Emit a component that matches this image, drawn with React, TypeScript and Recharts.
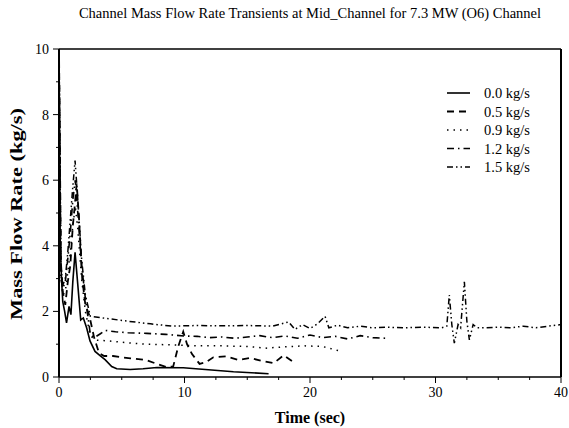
import { LineChart, Line, XAxis, YAxis, ReferenceLine } from 'recharts'

// time (sec) / mass flow rate (kg/s) pairs, one pair per inlet flow
const t00 = [0, 0.1, 0.2, 0.3, 0.45, 0.6, 0.8, 0.95, 1.1, 1.28, 1.5, 1.73, 1.94, 2.2, 2.47, 2.87, 3.27, 3.67, 4.2, 4.6, 5.67, 6.7, 7.8, 9.9, 11.9, 13.9, 16.7]
const v00 = [10, 4.0, 3.0, 2.3, 2.0, 1.65, 2.15, 1.9, 2.9, 3.8, 2.8, 1.74, 1.8, 1.5, 1.1, 0.78, 0.65, 0.53, 0.32, 0.25, 0.23, 0.25, 0.29, 0.28, 0.22, 0.16, 0.1]

const t05 = [0, 0.15, 0.3, 0.5, 0.7, 0.9, 1.1, 1.25, 1.41, 1.6, 1.85, 2.1, 2.4, 2.8, 3.2, 3.6, 4.3, 5.0, 5.7, 6.9, 7.8, 8.6, 9.1, 9.5, 9.9, 10.2, 10.6, 11.2, 11.7, 12.3, 13.3, 14.3, 15.2, 16.1, 17.1, 17.9, 18.7]
const v05 = [10, 3.5, 2.6, 2.2, 2.9, 3.4, 4.6, 5.2, 5.9, 4.8, 3.0, 2.2, 1.9, 1.2, 0.72, 0.64, 0.64, 0.6, 0.57, 0.52, 0.4, 0.3, 0.32, 0.93, 1.38, 1.0, 0.7, 0.4, 0.45, 0.6, 0.63, 0.52, 0.58, 0.5, 0.42, 0.66, 0.45]

const t09 = [0, 0.15, 0.3, 0.5, 0.7, 0.9, 1.1, 1.3, 1.5, 1.8, 2.1, 2.5, 3.0, 4.0, 5.5, 7.0, 9.0, 11.0, 13.0, 15.0, 16.5, 18.0, 19.5, 21.0, 22.3]
const v09 = [10, 3.2, 2.5, 2.6, 3.2, 3.8, 4.6, 5.2, 4.5, 3.0, 2.0, 1.25, 1.12, 1.1, 1.04, 1.0, 0.98, 0.95, 0.95, 0.93, 0.88, 0.92, 0.95, 0.93, 0.8]

const t12 = [0, 0.15, 0.3, 0.5, 0.7, 0.9, 1.1, 1.3, 1.5, 1.8, 2.1, 2.5, 2.8, 3.3, 3.7, 4.5, 5.5, 7.0, 8.5, 10.0, 11.0, 12.0, 13.0, 14.0, 15.0, 16.0, 17.0, 18.0, 19.0, 20.0, 21.0, 22.0, 23.0, 24.0, 25.0, 26.2]
const v12 = [10, 3.0, 2.7, 2.9, 3.6, 4.4, 5.4, 6.0, 5.0, 3.4, 2.4, 1.3, 1.2, 1.32, 1.42, 1.38, 1.35, 1.33, 1.3, 1.25, 1.24, 1.2, 1.22, 1.18, 1.22, 1.26, 1.2, 1.25, 1.18, 1.28, 1.2, 1.24, 1.16, 1.26, 1.2, 1.18]

const t15 = [0, 0.15, 0.3, 0.5, 0.7, 0.9, 1.1, 1.28, 1.5, 1.8, 2.1, 2.5, 3.5, 5.5, 7.3, 9.0, 11.0, 13.0, 15.0, 17.0, 18.3, 18.8, 19.4, 20.0, 20.6, 21.2, 21.5, 22.2, 23.0, 24.0, 25.0, 26.0, 27.5, 29.0, 30.5, 30.9, 31.1, 31.3, 31.5, 31.8, 32.0, 32.3, 32.5, 32.7, 33.0, 33.3, 34.0, 35.0, 36.0, 37.0, 38.0, 39.0, 40.0]
const v15 = [10, 3.4, 2.8, 3.0, 3.8, 4.8, 5.8, 6.6, 5.4, 3.6, 2.5, 1.85, 1.8, 1.7, 1.62, 1.55, 1.57, 1.56, 1.57, 1.55, 1.68, 1.45, 1.6, 1.48, 1.62, 1.85, 1.5, 1.58, 1.5, 1.55, 1.5, 1.52, 1.5, 1.52, 1.5, 1.55, 2.5, 1.6, 1.03, 1.6, 1.5, 2.9, 1.7, 1.13, 1.6, 1.5, 1.5, 1.52, 1.5, 1.55, 1.5, 1.55, 1.6]

const xTicks = [0, 2.5, 5, 7.5, 10, 12.5, 15, 17.5, 20, 22.5, 25, 27.5, 30, 32.5, 35, 37.5, 40]
const yTicks = [0, 1, 2, 3, 4, 5, 6, 7, 8, 9, 10]
const legendLabels = ['0.0 kg/s', '0.5 kg/s', '0.9 kg/s', '1.2 kg/s', '1.5 kg/s']

const font = '"Liberation Serif", "Times New Roman", serif'
const dashes = [undefined, '7 5', '1.5 5', '7 4 1.5 4', '6 3 1.5 3 1.5 3']
const widths = [1.6, 1.8, 1.5, 1.6, 1.5]

const toPoints = (ts: number[], vs: number[]) => ts.map((t, i) => ({ t, v: vs[i] }))
const series = [toPoints(t00, v00), toPoints(t05, v05), toPoints(t09, v09), toPoints(t12, v12), toPoints(t15, v15)]

function XTick(props: any) {
  const { x, y, payload } = props
  const major = payload.value % 10 === 0
  return (
    <g>
      <line x1={x} x2={x} y1={y} y2={y + (major ? 6 : 3)} stroke="#000" />
      {major && (
        <text x={x} y={y + 20} textAnchor="middle" fontFamily={font} fontSize={14} fill="#000">
          {payload.value}
        </text>
      )}
    </g>
  )
}

function YTick(props: any) {
  const { x, y, payload } = props
  const major = payload.value % 2 === 0
  return (
    <g>
      <line x1={x} x2={x - (major ? 6 : 3)} y1={y} y2={y} stroke="#000" />
      {major && (
        <text x={x - 10} y={y + 5} textAnchor="end" fontFamily={font} fontSize={14} fill="#000">
          {payload.value}
        </text>
      )}
    </g>
  )
}

function Legend() {
  return (
    <svg width={120} height={100} style={{ position: 'absolute', left: 440, top: 82 }}>
      {legendLabels.map((label, i) => (
        <g key={label}>
          <line x1={7} x2={30} y1={11 + i * 18.5} y2={11 + i * 18.5} stroke="#000" strokeWidth={widths[i]} strokeDasharray={dashes[i]} />
          <text x={44} y={16 + i * 18.5} fontFamily={font} fontSize={14.5} fill="#000">
            {label}
          </text>
        </g>
      ))}
    </svg>
  )
}

export default function App() {
  return (
    <div style={{ position: 'absolute', left: 0, top: 0, width: 569, height: 428, background: '#fff' }}>
      <LineChart width={569} height={428} margin={{ top: 49, right: 8, left: 0, bottom: 0 }}>
        <XAxis
          type="number"
          dataKey="t"
          domain={[0, 40]}
          ticks={xTicks}
          interval={0}
          height={51}
          tickSize={0}
          tickMargin={0}
          tickLine={false}
          tick={<XTick />}
          axisLine={{ stroke: '#000', strokeWidth: 1.5 }}
          allowDataOverflow
        />
        <YAxis
          type="number"
          dataKey="v"
          domain={[0, 10]}
          ticks={yTicks}
          interval={0}
          width={59}
          tickSize={0}
          tickMargin={0}
          tickLine={false}
          tick={<YTick />}
          axisLine={{ stroke: '#000', strokeWidth: 2 }}
          allowDataOverflow
        />
        <ReferenceLine y={10} stroke="#000" strokeWidth={1.5} />
        <ReferenceLine x={40} stroke="#000" strokeWidth={2} />
        {series.map((data, i) => (
          <Line
            key={legendLabels[i]}
            data={data}
            dataKey="v"
            type="linear"
            stroke="#000"
            strokeWidth={widths[i]}
            strokeDasharray={dashes[i]}
            dot={false}
            isAnimationActive={false}
          />
        ))}
      </LineChart>
      <div style={{ position: 'absolute', left: 59, width: 502, top: 5, textAlign: 'center', fontFamily: font, fontSize: 14.5 }}>
        Channel Mass Flow Rate Transients at Mid_Channel for 7.3 MW (O6) Channel
      </div>
      <div style={{ position: 'absolute', left: 59, width: 502, top: 409, textAlign: 'center', fontFamily: font, fontSize: 16, fontWeight: 'bold' }}>
        Time (sec)
      </div>
      <svg width={40} height={428} style={{ position: 'absolute', left: 0, top: 0 }}>
        <text
          x={0}
          y={0}
          transform="translate(22, 214) rotate(-90)"
          textAnchor="middle"
          textLength={212}
          lengthAdjust="spacingAndGlyphs"
          fontFamily={font}
          fontSize={16}
          fontWeight="bold"
          fill="#000"
        >
          Mass Flow Rate (kg/s)
        </text>
      </svg>
      <Legend />
    </div>
  )
}
